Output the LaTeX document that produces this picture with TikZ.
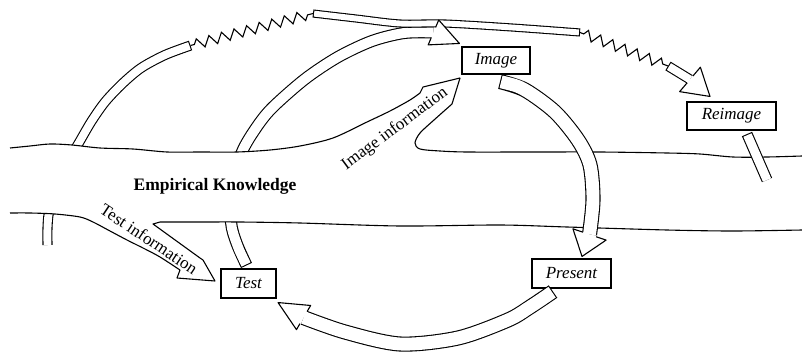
\documentclass[tikz,border=0pt]{standalone}
\usepackage{fontspec}
\setmainfont{Liberation Serif}
\usetikzlibrary{calc,decorations.pathmorphing}

\tikzset{
  box/.style={draw, fill=white, line width=1.1pt, inner sep=0pt,
    font=\itshape\fontsize{17}{20}\selectfont},
  info/.style={inner sep=0pt, font=\fontsize{17}{20}\selectfont},
  bank/.style={line width=1.1pt, line join=round},
  spring/.style={line width=1.1pt, decorate, decoration={zigzag,
    segment length=13pt, amplitude=5pt, pre length=4pt, post length=4pt}}
}

% hollow band: black outline, white inside
\newcommand{\hollow}[4]{%
  \draw[line width=#1+1.1pt, #2] #4;
  \draw[white, line width=#1-1.1pt, #3] #4;}
% open head from base #1 to tip #2, head half width #3, shaft half width #4
\newcommand{\fathead}[4]{%
  \fill[white] ($(#1)!#3!90:(#2)$) -- (#2) -- ($(#1)!#3!-90:(#2)$) -- cycle;
  \draw[line join=round] ($(#1)!#4!90:(#2)$) -- ($(#1)!#3!90:(#2)$) -- (#2) -- ($(#1)!#3!-90:(#2)$) -- ($(#1)!#4!-90:(#2)$);}

\begin{document}
\begin{tikzpicture}[x=1pt, y=-1pt, line width=1.1pt]
\useasboundingbox (0,0) rectangle (802,353);

% boxes
\node[box, minimum width=68, minimum height=27] (image) at (496,60.5) {Image};
\node[box, minimum width=89, minimum height=28] (reimage) at (731.5,116) {Reimage};
\node[box, minimum width=79, minimum height=29] (present) at (571.5,273.5) {Present};
\node[box, minimum width=55, minimum height=29] (test) at (248.5,283.5) {Test};

% ends of the arrows
\coordinate (ipTail) at ($(image.south)+(4,7)$);
\coordinate (ipTip) at ($(present.north)+(10.5,-2)$);
\coordinate (ipBase) at ($(ipTip)+(7.5,-22)$);
\coordinate (ptTail) at ($(present.south)+(-18.5,3)$);
\coordinate (ptTip) at ($(test.south east)+(1.5,4)$);
\coordinate (ptBase) at ($(ptTip)+(25.5,15)$);
\coordinate (tiTail) at ($(test.north)+(-2,-3)$);
\coordinate (tiTip) at ($(image.north west)+(-2,-3)$);
\coordinate (tiBase) at ($(tiTip)+(-26,-11)$);
\coordinate (riTip) at ($(reimage.north)+(-21.5,-5)$);
\coordinate (riBase) at ($(riTip)+(-20,-17)$);
\coordinate (reStub) at ($(reimage.south)+(15.5,3.5)$);
\coordinate (pastTop) at (190.5,45.5);
\coordinate (bandL) at (313,13.5);
\coordinate (bandR) at (580,32.5);
\coordinate (reTail) at (668,66);

% arcs that run under the river
\begin{scope}
  \clip (0,0) -- (0,148) -- plot[smooth] coordinates {(10,148) (30,146) (50,144) (72,145) (100,148) (133,149) (167,152) (200,152) (237,152) (270,150) (300,146)} -- (470,75) -- (470,0) -- cycle
    (0,353) -- (0,213) -- plot[smooth] coordinates {(10,213) (30,213) (55,214) (80,217) (93,222) (110,231)} -- (110,353) -- cycle
    (150,353) -- (150,222) -- plot[smooth] coordinates {(160,222) (200,222) (240,222) (300,223) (400,226)} -- (400,353) -- cycle;
  % Test -> Image
  \hollow{11pt}{}{shorten <=1.1pt}{plot[smooth] coordinates {(tiTail) (236.5,243) (231,222) (232,187) (242,152) (256,128) (272,108) (305,79) (338,57) (372,41) (404,33) (tiBase)}}
  % long arc out of the past
  \hollow{9pt}{}{shorten >=1.1pt}{plot[smooth] coordinates {(47.5,245) (47.5,228) (49,212) (56,185) (66,163) (77,146) (91,122) (105,102) (122,84) (141,68) (165,55) (pastTop)}}
\end{scope}

% river banks
\draw[bank] plot[smooth] coordinates {(10,148) (30,146) (50,144) (72,145) (100,148) (133,149) (167,152) (200,152) (237,152) (270,150) (300,146) (333,138) (367,122) (390,111) (410,100) (420,93)} -- (423,87) -- (460,78) -- plot[smooth] coordinates {(452,104) (434,120) (420,133) (415,143) (420,149) (440,151) (467,152) (533,152) (600,152) (667,153) (700,154) (733,157) (767,157) (802,156)};
\draw[bank] plot[smooth] coordinates {(10,213) (30,213) (55,214) (80,217) (93,222) (110,231) (127,240) (145,249) (160,257) (180,270)} -- (177,278) -- (215,281) -- (203,260) -- (200,258) -- (153,224) -- plot[smooth] coordinates {(160,222) (200,222) (240,222) (300,223) (400,226) (500,225) (567,227) (667,230) (733,231) (802,230)};

% Image -> Present -> Test
\hollow{14pt}{}{shorten <=1.1pt}{plot[smooth] coordinates {(ipTail) (525,90) (555,112) (578,140) (590,165) (593,200) (ipBase)}}
\hollow{14pt}{}{shorten <=1.1pt}{plot[smooth] coordinates {(ptTail) (530,307) (508,320) (458,338) (400,344) (345,332) (ptBase)}}

% stub under Reimage
\hollow{10pt}{}{shorten <=1.1pt}{(reStub) -- (767,180)}

% top band and springs on to Reimage
\hollow{7pt}{}{shorten <=1.1pt, shorten >=1.1pt}{plot[smooth] coordinates {(bandL) (356,18.5) (400,23.5) (445,23.5) (512,27.5) (bandR)}}
\draw[spring] (pastTop) -- (bandL);
\draw[spring] (bandR) -- (reTail);
\hollow{9pt}{}{shorten <=1.1pt}{(reTail) -- (riBase)}

% heads
\fathead{ipBase}{ipTip}{17.5pt}{7pt}
\fathead{ptBase}{ptTip}{14pt}{7pt}
\fathead{tiBase}{tiTip}{13.5pt}{5.5pt}
\fathead{riBase}{riTip}{16pt}{4.5pt}

% texts
\node[font=\bfseries\fontsize{17.5}{20}\selectfont, anchor=base] (empirical) at (215,190.5) {Empirical Knowledge};
\node[info, rotate=36.5] (imageinfo) at (395,129) {Image information};
\node[info, rotate=-33.5] (testinfo) at (149,239) {Test information};
\end{tikzpicture}
\end{document}
